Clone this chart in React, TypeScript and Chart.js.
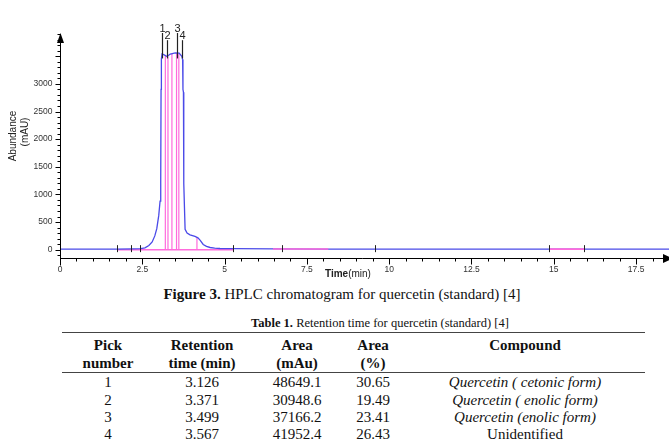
import React, { useEffect, useRef } from "react";
import { Chart, registerables } from "chart.js";

Chart.register(...registerables);

// Detector trace: retention time (min) and response (mAU)
const traceTimes = [
  0, 1.7, 2.2, 2.45, 2.58, 2.7, 2.8, 2.88, 2.94, 3.0, 3.04, 3.06, 3.07, 3.08,
  3.1, 3.18, 3.25, 3.35, 3.5, 3.62, 3.7, 3.725, 3.735, 3.75, 3.76, 3.8, 3.86,
  3.95, 4.1, 4.19, 4.26, 4.35, 4.45, 4.56, 4.7, 4.86, 5.3, 6.5, 8, 10, 14, 18.5,
];
const traceValues = [
  10, 10, 14, 18, 35, 75, 140, 250, 380, 620, 880, 1200, 2900, 3450,
  3540, 3520, 3495, 3540, 3560, 3555, 3500, 3440, 2900, 2850, 1200, 370, 300,
  270, 240, 215, 170, 95, 60, 40, 30, 22, 18, 15, 12, 10, 10, 10,
];

// Integration baselines: start / end times (min) and level (mAU)
const baseStart = [1.73, 6.47, 14.86];
const baseEnd = [5.27, 8.15, 15.93];
const baseLevel = [0, 12, 10];

// Integration cut lines under the peak cluster
const cutTimes = [3.2, 3.28, 3.4, 3.54, 3.61, 4.16];
const cutTops = [3520, 3495, 3545, 3560, 3555, 225];

// Peak apex markers
const peakLabels = ["1", "2", "3", "4"];
const peakTimes = [3.1, 3.25, 3.56, 3.71];
const peakMarkTop = [3920, 3790, 3920, 3790];
const peakMarkBottom = 3460;

// Integration event ticks on the baseline
const eventTimes = [1.73, 2.15, 2.43, 5.27, 6.75, 9.57, 14.86, 15.93];

// Axis ticks
const xTickValues = [0, 2.5, 5, 7.5, 10, 12.5, 15, 17.5];
const xTickLabels = ["0", "2.5", "5", "7.5", "10", "12.5", "15", "17.5"];
const yTickValues = [0, 500, 1000, 1500, 2000, 2500, 3000];
const yTickLabels = ["0", "500", "1000", "1500", "2000", "2500", "3000"];

// Table content
const tableHeaders = [
  ["Pick", "number"],
  ["Retention", "time (min)"],
  ["Area", "(mAu)"],
  ["Area", "(%)"],
  ["Compound", ""],
];
const pickNumbers = ["1", "2", "3", "4"];
const retentionTimes = ["3.126", "3.371", "3.499", "3.567"];
const peakAreas = ["48649.1", "30948.6", "37166.2", "41952.4"];
const areaPercents = ["30.65", "19.49", "23.41", "26.43"];
const compounds = [
  "Quercetin ( cetonic form)",
  "Quercetin ( enolic form)",
  "Quercetin (enolic form)",
  "Unidentified",
];
const compoundItalic = [true, true, true, false];

const BLUE = "#4a4ae8";
const PINK = "#ff6bdc";
const W = 669;
const CHART_H = 284;

const chromPlugin = {
  id: "chromAxes",
  afterDatasetsDraw(chart: any) {
    const { ctx, scales } = chart;
    const x = scales.x;
    const y = scales.y;
    ctx.save();
    ctx.strokeStyle = "#222";
    ctx.lineWidth = 1.2;
    // apex markers with peak numbers
    ctx.fillStyle = "#222";
    ctx.font = "11px 'Liberation Sans', Arial, sans-serif";
    ctx.textAlign = "center";
    ctx.textBaseline = "bottom";
    peakTimes.forEach((t, i) => {
      const px = Math.round(x.getPixelForValue(t)) + 0.5;
      const top = y.getPixelForValue(peakMarkTop[i]);
      ctx.beginPath();
      ctx.moveTo(px, top);
      ctx.lineTo(px, y.getPixelForValue(peakMarkBottom));
      ctx.stroke();
      ctx.fillText(peakLabels[i], px, top + 1);
    });
    // baseline event ticks
    ctx.lineWidth = 1;
    eventTimes.forEach((t) => {
      const px = Math.round(x.getPixelForValue(t)) + 0.5;
      const py = y.getPixelForValue(10);
      ctx.beginPath();
      ctx.moveTo(px, py - 4);
      ctx.lineTo(px, py + 3);
      ctx.stroke();
    });
    ctx.restore();
  },
  afterDraw(chart: any) {
    const { ctx, chartArea: a, scales } = chart;
    const x = scales.x;
    const y = scales.y;
    ctx.save();
    ctx.strokeStyle = "#000";
    ctx.fillStyle = "#000";
    ctx.lineWidth = 1;
    const x0 = Math.round(x.getPixelForValue(0)) + 0.5;
    const yb = Math.round(a.bottom) + 0.5;

    // vertical axis with arrow head
    ctx.beginPath();
    ctx.moveTo(x0, yb + 7);
    ctx.lineTo(x0, a.top + 8);
    ctx.stroke();
    ctx.beginPath();
    ctx.moveTo(x0, a.top);
    ctx.lineTo(x0 - 3.5, a.top + 10);
    ctx.lineTo(x0 + 3.5, a.top + 10);
    ctx.closePath();
    ctx.fill();
    for (let v = -100; v <= 3900; v += 100) {
      const py = Math.round(y.getPixelForValue(v)) + 0.5;
      const len = v % 500 === 0 ? 5 : 3;
      ctx.beginPath();
      ctx.moveTo(x0 - len, py);
      ctx.lineTo(x0, py);
      ctx.stroke();
    }

    // horizontal axis with arrow head
    ctx.beginPath();
    ctx.moveTo(x0, yb);
    ctx.lineTo(a.right - 4, yb);
    ctx.stroke();
    ctx.beginPath();
    ctx.moveTo(a.right - 6, yb - 4.5);
    ctx.lineTo(a.right + 4, yb);
    ctx.lineTo(a.right - 6, yb + 4.5);
    ctx.closePath();
    ctx.fill();
    for (let i = 0; i <= 36; i++) {
      const v = i * 0.5;
      const px = Math.round(x.getPixelForValue(v)) + 0.5;
      const len = i % 5 === 0 ? 6 : 3;
      ctx.beginPath();
      ctx.moveTo(px, yb);
      ctx.lineTo(px, yb + len);
      ctx.stroke();
    }

    // tick labels
    ctx.fillStyle = "#333";
    ctx.font = "8.5px 'Liberation Sans', Arial, sans-serif";
    ctx.textAlign = "right";
    ctx.textBaseline = "middle";
    yTickValues.forEach((v, i) => {
      ctx.fillText(yTickLabels[i], x0 - 8, y.getPixelForValue(v));
    });
    ctx.textAlign = "center";
    xTickValues.forEach((v, i) => {
      ctx.fillText(xTickLabels[i], x.getPixelForValue(v), yb + 11);
    });

    // axis titles
    ctx.fillStyle = "#222";
    ctx.textAlign = "left";
    ctx.font = "bold 10px 'Liberation Sans', Arial, sans-serif";
    const tx = 325;
    const ty = yb + 16;
    ctx.fillText("Time", tx, ty);
    const tw = ctx.measureText("Time").width;
    ctx.font = "10px 'Liberation Sans', Arial, sans-serif";
    ctx.fillText("(min)", tx + tw, ty);

    ctx.save();
    ctx.translate(13, 136);
    ctx.rotate(-Math.PI / 2);
    ctx.textAlign = "center";
    ctx.fillText("Abundance", 0, 0);
    ctx.restore();
    ctx.save();
    ctx.translate(25, 132);
    ctx.rotate(-Math.PI / 2);
    ctx.textAlign = "center";
    ctx.fillText("(mAU)", 0, 0);
    ctx.restore();

    ctx.restore();
  },
};

function ChromatogramChart() {
  const ref = useRef<HTMLCanvasElement | null>(null);

  useEffect(() => {
    if (!ref.current) return;
    const trace = traceTimes.map((t, i) => ({ x: t, y: traceValues[i] }));
    const under: any[] = [];
    const over: any[] = [];
    baseStart.forEach((s, i) => {
      const target = i === 0 ? under : over;
      target.push({ x: s, y: baseLevel[i] }, { x: baseEnd[i], y: baseLevel[i] }, { x: baseEnd[i], y: null });
    });
    const cuts: any[] = [];
    cutTimes.forEach((t, i) => {
      cuts.push({ x: t, y: 0 }, { x: t, y: cutTops[i] }, { x: t, y: null });
    });

    const common = { pointRadius: 0, fill: false, tension: 0, spanGaps: false };
    const chart = new Chart(ref.current, {
      type: "line",
      data: {
        datasets: [
          { ...common, data: over, borderColor: PINK, borderWidth: 1.6, order: 1 },
          { ...common, data: trace, borderColor: BLUE, borderWidth: 1.3, order: 2 },
          { ...common, data: cuts, borderColor: PINK, borderWidth: 1.2, order: 3 },
          { ...common, data: under, borderColor: PINK, borderWidth: 1.4, order: 4 },
        ],
      },
      options: {
        animation: false,
        responsive: false,
        devicePixelRatio: 1,
        parsing: true,
        layout: { padding: { left: 60, right: 0, top: 33, bottom: CHART_H - 258 } },
        plugins: { legend: { display: false }, tooltip: { enabled: false } },
        scales: {
          x: { type: "linear", min: 0, max: 18.5, display: false },
          y: { type: "linear", min: -150, max: 3920, display: false },
        },
      },
      plugins: [chromPlugin],
    });
    return () => chart.destroy();
  }, []);

  return <canvas ref={ref} width={W} height={CHART_H} style={{ position: "absolute", left: 0, top: 0 }} />;
}

const colCenters = [108, 202, 297, 373, 525];
const headerRows = [345, 363];
const dataRows = [382, 400, 417, 434];

function Cell(props: { cx: number; cy: number; children: React.ReactNode; bold?: boolean; italic?: boolean }) {
  return (
    <div
      style={{
        position: "absolute",
        left: props.cx - 120,
        top: props.cy - 9,
        width: 240,
        height: 18,
        lineHeight: "18px",
        textAlign: "center",
        fontWeight: props.bold ? "bold" : "normal",
        fontStyle: props.italic ? "italic" : "normal",
        whiteSpace: "nowrap",
      }}
    >
      {props.children}
    </div>
  );
}

export default function App() {
  useEffect(() => {
    document.body.style.margin = "0";
  }, []);

  const columns = [pickNumbers, retentionTimes, peakAreas, areaPercents, compounds];

  return (
    <div
      style={{
        position: "relative",
        width: W,
        height: 440,
        background: "#fff",
        overflow: "hidden",
        fontFamily: "'Liberation Serif', 'Times New Roman', serif",
        color: "#111",
      }}
    >
      <ChromatogramChart />
      <div
        style={{
          position: "absolute",
          left: 142,
          top: 285,
          width: 400,
          textAlign: "center",
          fontSize: 15,
          lineHeight: "18px",
          whiteSpace: "nowrap",
        }}
      >
        <b>Figure 3.</b> HPLC chromatogram for quercetin (standard) [4]
      </div>
      <div
        style={{
          position: "absolute",
          left: 180,
          top: 314,
          width: 400,
          textAlign: "center",
          fontSize: 12.5,
          lineHeight: "18px",
          whiteSpace: "nowrap",
        }}
      >
        <b>Table 1.</b> Retention time for quercetin (standard) [4]
      </div>
      <div style={{ position: "absolute", left: 62, top: 332, width: 583, height: 1, background: "#444" }} />
      <div style={{ position: "absolute", left: 62, top: 372, width: 583, height: 1, background: "#444" }} />
      <div style={{ fontSize: 15 }}>
        {tableHeaders.map((lines, c) =>
          lines.map((txt, r) =>
            txt ? (
              <Cell key={`h${c}-${r}`} cx={colCenters[c]} cy={headerRows[r]} bold>
                {txt}
              </Cell>
            ) : null
          )
        )}
        {columns.map((col, c) =>
          col.map((txt, r) => (
            <Cell
              key={`d${c}-${r}`}
              cx={colCenters[c]}
              cy={dataRows[r]}
              italic={c === 4 && compoundItalic[r]}
            >
              {txt}
            </Cell>
          ))
        )}
      </div>
    </div>
  );
}
